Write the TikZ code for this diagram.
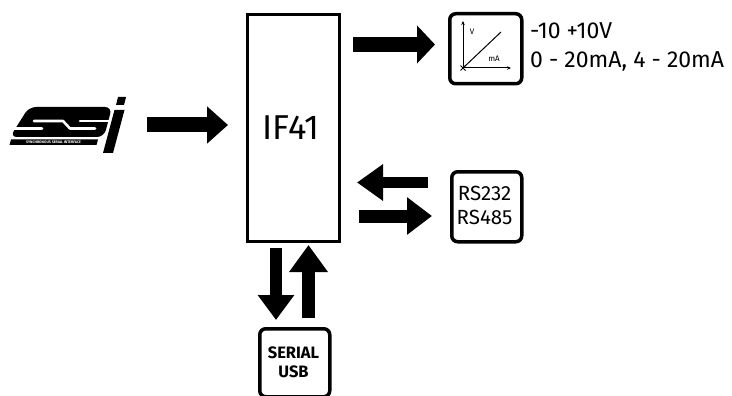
\documentclass[tikz,border=0pt]{standalone}
\usepackage{fontspec}
\setmainfont{Fira Sans}
\setsansfont{Fira Sans}
\usetikzlibrary{arrows.meta}
\begin{document}
\begin{tikzpicture}[x=1pt,y=-1pt,
  iconbox/.style={draw=black,line width=3.5pt,rounded corners=6pt,fill=white},
  mainbox/.style={draw=black,line width=3pt,fill=white},
  fatarrow/.style={draw=black,line cap=butt},
  lbl/.style={inner sep=0pt,text=black}]
\useasboundingbox (0,0) rectangle (732,396);
\fill[white] (0,0) rectangle (732,396);

% ---------- SSI logo ----------
\fill[black,rounded corners=7pt] (29,107) -- (112,107) -- (104,137) -- (10,137) -- cycle;
\draw[white,line width=2.6pt,line cap=round,line join=round]
  (34,121) -- (63,121) -- (70,128.5) -- (95,128.5);
\draw[white,line width=2.6pt,line cap=round] (80,121) -- (114,121);
\draw[white,line width=2.6pt,line cap=round] (6,128.5) -- (42,128.5);
\fill[black] (11,139.5) -- (98,139.5) -- (96.5,145) -- (9.5,145) -- cycle;
\node[lbl,text=white,font=\bfseries\fontsize{3.6}{4}\selectfont] (ssitext) at (53.5,142.3) {SYNCHRONOUS SERIAL INTERFACE};
\fill[black] (114.5,110) -- (124.5,110) -- (113,153) -- (103,153) -- cycle;
\fill[black] (118,97) -- (126,97) -- (124,105) -- (116,105) -- cycle;

% ---------- main box ----------
\node[mainbox,minimum width=92pt,minimum height=227pt,inner sep=0pt,anchor=north west] (if) at (246,13) {};
\node[lbl,font=\fontsize{34.5}{38}\selectfont] (iftext) at (291,128) {IF41};

% ---------- analog output icon ----------
\node[iconbox,minimum width=72pt,minimum height=70pt,anchor=north west,inner sep=0pt] (ana) at (448,12) {};
\coordinate (org) at (463,68);
\coordinate (vtop) at (463,21);
\coordinate (aright) at (511,68);
\coordinate (diag) at (501,32);
\draw[line width=1pt,-{Stealth[length=4pt,width=3.5pt]}] (org) -- (vtop);
\draw[line width=1pt,-{Stealth[length=4pt,width=3.5pt]}] (org) -- (aright);
\draw[line width=1pt] (org) -- (diag);
\draw[line width=0.9pt] (460.5,65.5) -- (465.5,70.5) (460.5,70.5) -- (465.5,65.5);
\node[lbl,font=\fontsize{8}{8}\selectfont] (vlab) at (472,32) {V};
\node[lbl,font=\fontsize{8}{8}\selectfont] (malab) at (494,59) {mA};
\node[lbl,anchor=base west,font=\fontsize{23}{26}\selectfont] (range1) at (530,39) {-10 +10V};
\node[lbl,anchor=base west,font=\fontsize{23}{26}\selectfont] (range2) at (530,68) {0 - 20mA, 4 - 20mA};

% ---------- RS icon ----------
\node[iconbox,minimum width=70pt,minimum height=70pt,anchor=north west,inner sep=0pt] (rs) at (450,170) {};
\node[lbl,font=\fontsize{20.5}{23}\selectfont] (rs1) at (484.5,193.5) {RS232};
\node[lbl,font=\fontsize{20.5}{23}\selectfont] (rs2) at (484.5,217.5) {RS485};

% ---------- SERIAL USB icon ----------
\node[iconbox,minimum width=70pt,minimum height=68pt,anchor=north west,inner sep=0pt] (usb) at (258,327) {};
\node[lbl,font=\bfseries\fontsize{16.5}{19}\selectfont] (usb1) at (293.5,352.5) {SERIAL};
\node[lbl,font=\bfseries\fontsize{16.5}{19}\selectfont] (usb2) at (293.5,371.5) {USB};

% ---------- arrows ----------
\coordinate (a1s) at (147,125);   \coordinate (a1e) at (228,125);
\coordinate (a2s) at (353,44.5);  \coordinate (a2e) at (435,44.5);
\coordinate (a3s) at (428,182.5); \coordinate (a3e) at (357,182.5);
\coordinate (a4s) at (359,216);   \coordinate (a4e) at (432,216);
\coordinate (a5s) at (276,248);   \coordinate (a5e) at (276,320);
\coordinate (a6s) at (308.5,318); \coordinate (a6e) at (308.5,245);

\draw[fatarrow,line width=15pt,-{Triangle[length=21pt,width=36pt]}] (a1s) -- (a1e);
\draw[fatarrow,line width=15pt,-{Triangle[length=18pt,width=37pt]}] (a2s) -- (a2e);
\draw[fatarrow,line width=11pt,-{Triangle[length=26pt,width=35pt]}] (a3s) -- (a3e);
\draw[fatarrow,line width=13pt,-{Triangle[length=25pt,width=36pt]}] (a4s) -- (a4e);
\draw[fatarrow,line width=12pt,-{Triangle[length=25pt,width=35pt]}] (a5s) -- (a5e);
\draw[fatarrow,line width=13pt,-{Triangle[length=27pt,width=37pt]}] (a6s) -- (a6e);
\end{tikzpicture}
\end{document}
